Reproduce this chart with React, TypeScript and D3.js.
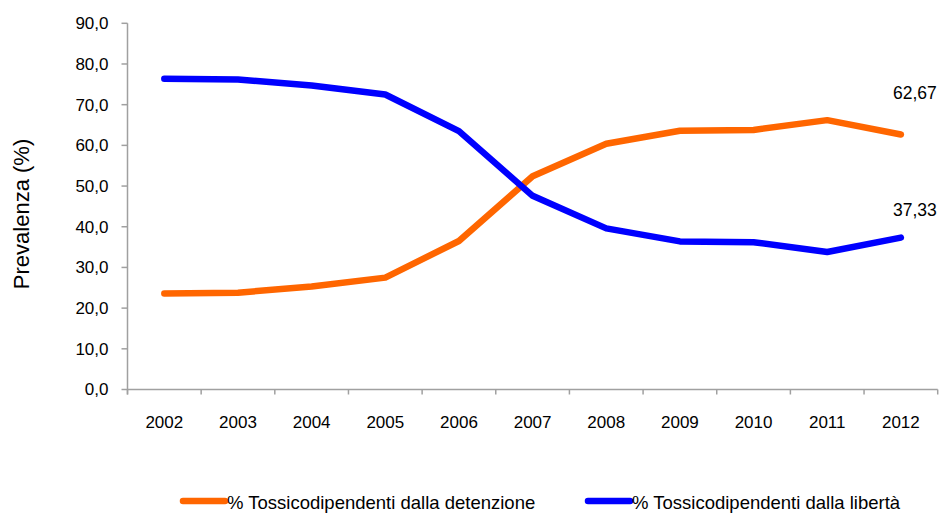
import React from "react";
import * as d3 from "d3";

const years = ["2002", "2003", "2004", "2005", "2006", "2007", "2008", "2009", "2010", "2011", "2012"];
const detenzione = [23.6, 23.8, 25.3, 27.5, 36.5, 52.4, 60.4, 63.6, 63.8, 66.2, 62.67];
const liberta = [76.4, 76.2, 74.7, 72.5, 63.5, 47.6, 39.6, 36.4, 36.2, 33.8, 37.33];
const seriesNames = ["% Tossicodipendenti dalla detenzione", "% Tossicodipendenti dalla libertà"];
const endLabels = ["62,67", "37,33"];
const yTicks = [0, 10, 20, 30, 40, 50, 60, 70, 80, 90];

const W = 941;
const H = 513;
const colors = ["#FF6600", "#0000FF"];
const labelDy = [-36, -22];
const font = "Arial, 'Liberation Sans', sans-serif";

const itLocale = d3.formatLocale({ decimal: ",", thousands: ".", grouping: [3], currency: ["", "€"] });
const fmt = itLocale.format(".1f");

export default function App() {
  const x = d3.scaleBand<string>().domain(years).range([127.5, 937.7]);
  const y = d3.scaleLinear().domain([0, 90]).range([389.5, 23.3]);
  const cx = (yr: string) => (x(yr) as number) + x.bandwidth() / 2;

  const line = d3
    .line<number>()
    .x((_, i) => cx(years[i]))
    .y((d) => y(d));

  const series = [detenzione, liberta];
  const axisColor = "#A0A0A0";
  const boundaries = years.map((yr) => x(yr) as number).concat([x.range()[1]]);

  return (
    <svg width={W} height={H} style={{ position: "absolute", left: 0, top: 0, background: "#fff" }} fontFamily={font}>
      {/* Y axis */}
      <line x1={x.range()[0]} x2={x.range()[0]} y1={y(90)} y2={y(0) + 5} stroke={axisColor} strokeWidth={1.5} />
      {yTicks.map((t) => (
        <g key={t}>
          <line x1={x.range()[0] - 6} x2={x.range()[0]} y1={y(t)} y2={y(t)} stroke={axisColor} strokeWidth={1.5} />
          <text x={108.5} y={y(t)} dy="0.35em" textAnchor="end" fontSize={17} fill="#000">
            {fmt(t)}
          </text>
        </g>
      ))}
      <text
        transform={`translate(29, 214) rotate(-90)`}
        textAnchor="middle"
        fontSize={22}
        fill="#000"
      >
        Prevalenza (%)
      </text>

      {/* X axis */}
      <line x1={x.range()[0]} x2={x.range()[1]} y1={y(0)} y2={y(0)} stroke={axisColor} strokeWidth={1.5} />
      {boundaries.map((b, i) => (
        <line key={i} x1={b} x2={b} y1={y(0)} y2={y(0) + 5} stroke={axisColor} strokeWidth={1.5} />
      ))}
      {years.map((yr) => (
        <text key={yr} x={cx(yr)} y={427.5} textAnchor="middle" fontSize={17} fill="#000">
          {yr}
        </text>
      ))}

      {/* Lines */}
      {series.map((s, i) => (
        <path
          key={i}
          d={line(s) as string}
          fill="none"
          stroke={colors[i]}
          strokeWidth={6.5}
          strokeLinecap="round"
          strokeLinejoin="round"
        />
      ))}

      {/* End labels */}
      {series.map((s, i) => (
        <text
          key={i}
          x={cx(years[years.length - 1]) + 14}
          y={y(s[s.length - 1]) + labelDy[i]}
          textAnchor="middle"
          fontSize={17.5}
          fill="#000"
        >
          {endLabels[i]}
        </text>
      ))}

      {/* Legend */}
      {seriesNames.map((n, i) => {
        const lx = i === 0 ? 183 : 588;
        return (
          <g key={n}>
            <line x1={lx} x2={lx + 42} y1={501} y2={501} stroke={colors[i]} strokeWidth={6.5} strokeLinecap="round" />
            <text x={lx + 44} y={508.5} fontSize={18.5} fill="#000">
              {n}
            </text>
          </g>
        );
      })}
    </svg>
  );
}
